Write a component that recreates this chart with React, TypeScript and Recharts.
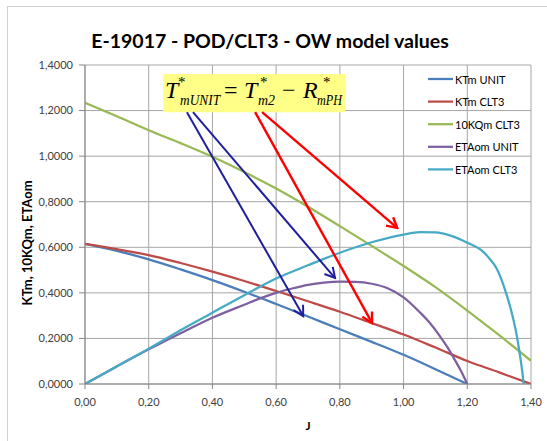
import React from 'react';
import { LineChart, Line, XAxis, YAxis, CartesianGrid, ReferenceLine, ReferenceArea } from 'recharts';

// ---- data ----
const J_TICKS = [0, 0.2, 0.4, 0.6, 0.8, 1.0, 1.2, 1.4];
const Y_TICKS = [0, 0.2, 0.4, 0.6, 0.8, 1.0, 1.2, 1.4];

const ktmUnitJ = [0, 0.1, 0.2, 0.3, 0.4, 0.5, 0.6, 0.7, 0.8, 0.9, 1.0, 1.1, 1.2];
const ktmUnitV = [0.615, 0.584, 0.547, 0.503, 0.456, 0.405, 0.351, 0.296, 0.240, 0.185, 0.128, 0.065, 0.0];

const ktmClt3J = [0, 0.1, 0.2, 0.3, 0.4, 0.5, 0.6, 0.7, 0.8, 0.9, 1.0, 1.1, 1.2, 1.3, 1.4];
const ktmClt3V = [0.615, 0.592, 0.566, 0.531, 0.493, 0.452, 0.408, 0.363, 0.317, 0.267, 0.217, 0.160, 0.101, 0.051, 0.0];

const kqClt3J = [0, 0.1, 0.2, 0.3, 0.4, 0.5, 0.6, 0.7, 0.8, 0.9, 1.0, 1.1, 1.2, 1.3, 1.4];
const kqClt3V = [1.234, 1.175, 1.114, 1.057, 0.997, 0.930, 0.858, 0.778, 0.693, 0.606, 0.518, 0.425, 0.322, 0.214, 0.102];

const etaUnitJ = [0, 0.1, 0.2, 0.3, 0.4, 0.5, 0.55, 0.6, 0.65, 0.7, 0.75, 0.8, 0.85, 0.9, 0.95, 1.0, 1.05, 1.08, 1.11, 1.14, 1.16, 1.18, 1.2];
const etaUnitV = [0, 0.077, 0.152, 0.223, 0.291, 0.348, 0.376, 0.400, 0.419, 0.435, 0.445, 0.449, 0.448, 0.440, 0.420, 0.380, 0.316, 0.272, 0.218, 0.156, 0.108, 0.058, 0.0];

const etaClt3J = [0, 0.1, 0.2, 0.3, 0.4, 0.5, 0.6, 0.7, 0.8, 0.9, 1.0, 1.05, 1.1, 1.15, 1.2, 1.25, 1.27, 1.293, 1.317, 1.34, 1.355, 1.366, 1.373, 1.377];
const etaClt3V = [0, 0.078, 0.155, 0.236, 0.313, 0.390, 0.463, 0.521, 0.576, 0.622, 0.656, 0.666, 0.665, 0.650, 0.620, 0.580, 0.550, 0.505, 0.420, 0.310, 0.215, 0.120, 0.050, 0.0];

const SERIES_NAMES = ['KTm UNIT', 'KTm CLT3', '10KQm CLT3', 'ETAom UNIT', 'ETAom CLT3'];
const SERIES_COLORS = ['#4A7EBB', '#BE4B48', '#98B954', '#7D60A0', '#46AAC5'];

// annotation arrows: [startJ, startV, endJ, endV]
const BLUE_ARROWS = [
  [0.320, 1.193, 0.685, 0.298],
  [0.339, 1.193, 0.785, 0.465],
];
const RED_ARROWS = [
  [0.534, 1.193, 0.901, 0.268],
  [0.556, 1.193, 0.980, 0.685],
];
const FORMULA_BOX = { x1: 0.245, x2: 0.817, y1: 1.193, y2: 1.36 };

const zip = (js: number[], vs: number[]) => js.map((j, i) => ({ j, v: vs[i] }));
const seriesData = [
  zip(ktmUnitJ, ktmUnitV),
  zip(ktmClt3J, ktmClt3V),
  zip(kqClt3J, kqClt3V),
  zip(etaUnitJ, etaUnitV),
  zip(etaClt3J, etaClt3V),
];

const FONT = 'Lato, "Open Sans", sans-serif';
const fmtY = (v: number) => v.toFixed(4).replace('.', ',');
const fmtX = (v: number) => v.toFixed(2).replace('.', ',');

const Formula = (props: any) => {
  const vb = props.viewBox || {};
  const x0 = vb.x ?? 0;
  const y0 = vb.y ?? 0;
  const ff = '"Liberation Serif", "Times New Roman", serif';
  const big = 24;
  const sub = 15;
  const base = y0 + 23.5;
  const subBase = y0 + 31;
  const supBase = y0 + 13;
  return (
    <g fontFamily={ff} fill="#000">
      <text x={x0 + 2} y={base} fontSize={big} fontStyle="italic">T</text>
      <text x={x0 + 15} y={supBase} fontSize={sub}>*</text>
      <text x={x0 + 17} y={subBase} fontSize={sub} fontStyle="italic" textLength={40} lengthAdjust="spacingAndGlyphs">mUNIT</text>
      <text x={x0 + 61} y={base} fontSize={big}>=</text>
      <text x={x0 + 81} y={base} fontSize={big} fontStyle="italic">T</text>
      <text x={x0 + 97} y={supBase} fontSize={sub}>*</text>
      <text x={x0 + 95} y={subBase} fontSize={sub} fontStyle="italic" textLength={17} lengthAdjust="spacingAndGlyphs">m2</text>
      <text x={x0 + 119} y={base} fontSize={big}>−</text>
      <text x={x0 + 140} y={base} fontSize={big} fontStyle="italic">R</text>
      <text x={x0 + 160} y={supBase} fontSize={sub}>*</text>
      <text x={x0 + 154} y={subBase} fontSize={sub} fontStyle="italic" textLength={25} lengthAdjust="spacingAndGlyphs">mPH</text>
    </g>
  );
};

const arrowShape = (marker: string, color: string, width: number) => (p: any) => (
  <line
    x1={p.x1}
    y1={p.y1}
    x2={p.x2}
    y2={p.y2}
    stroke={color}
    strokeWidth={width}
    markerEnd={`url(#${marker})`}
  />
);

const LegendBox = () => {
  const x0 = 428;
  const y0 = 79;
  const step = 22.6;
  return (
    <g fontFamily={FONT} fontSize={11} fill="#000">
      {SERIES_NAMES.map((name, i) => (
        <g key={name}>
          <line x1={x0} x2={x0 + 25} y1={y0 + i * step} y2={y0 + i * step} stroke={SERIES_COLORS[i]} strokeWidth={2.25} />
          <text x={x0 + 27} y={y0 + i * step} dominantBaseline="central">{name}</text>
        </g>
      ))}
    </g>
  );
};

export default function App() {
  return (
    <div style={{ position: 'absolute', left: 0, top: 0, width: 547, height: 441, background: '#fff' }}>
      <LineChart width={547} height={441} margin={{ top: 65, right: 16, bottom: 27, left: 0 }}>
        <defs>
          <marker id="ahRed" markerUnits="userSpaceOnUse" markerWidth={14} markerHeight={14} refX={12} refY={7} orient="auto">
            <path d="M2,1.5 L12,7 L2,12.5" fill="none" stroke="#FF0000" strokeWidth={2.4} />
          </marker>
          <marker id="ahBlue" markerUnits="userSpaceOnUse" markerWidth={14} markerHeight={14} refX={12} refY={7} orient="auto">
            <path d="M2,1.5 L12,7 L2,12.5" fill="none" stroke="#1F1F9C" strokeWidth={2} />
          </marker>
        </defs>
        <rect x={7.5} y={6.5} width={560} height={460} fill="none" stroke="#d0d0d0" />
        <CartesianGrid stroke="#a6a6a6" strokeWidth={1} />
        <XAxis
          type="number"
          dataKey="j"
          domain={[0, 1.4]}
          ticks={J_TICKS}
          tickFormatter={fmtX}
          height={30}
          tickSize={5}
          tickMargin={9}
          axisLine={{ stroke: '#868686' }}
          tickLine={{ stroke: '#868686' }}
          tick={{ fill: '#404040', fontSize: 11, fontFamily: FONT }}
          allowDataOverflow
        />
        <YAxis
          type="number"
          domain={[0, 1.4]}
          ticks={Y_TICKS}
          tickFormatter={fmtY}
          width={85}
          tickSize={6}
          tickMargin={6}
          axisLine={{ stroke: '#868686' }}
          tickLine={{ stroke: '#868686' }}
          tick={{ fill: '#404040', fontSize: 11, fontFamily: FONT }}
          allowDataOverflow
        />
        {seriesData.map((d, i) => (
          <Line
            key={SERIES_NAMES[i]}
            data={d}
            dataKey="v"
            name={SERIES_NAMES[i]}
            type="monotone"
            stroke={SERIES_COLORS[i]}
            strokeWidth={2.25}
            dot={false}
            activeDot={false}
            isAnimationActive={false}
          />
        ))}
        <ReferenceArea
          x1={FORMULA_BOX.x1}
          x2={FORMULA_BOX.x2}
          y1={FORMULA_BOX.y1}
          y2={FORMULA_BOX.y2}
          fill="#FFFF88"
          fillOpacity={1}
          stroke="none"
          label={{ content: (p: any) => <Formula viewBox={p.viewBox} /> }}
        />
        {BLUE_ARROWS.map((a, i) => (
          <ReferenceLine
            key={'b' + i}
            segment={[{ x: a[0], y: a[1] }, { x: a[2], y: a[3] }]}
            stroke="#1F1F9C"
            strokeWidth={2}
            shape={arrowShape('ahBlue', '#1F1F9C', 2)}
          />
        ))}
        {RED_ARROWS.map((a, i) => (
          <ReferenceLine
            key={'r' + i}
            segment={[{ x: a[0], y: a[1] }, { x: a[2], y: a[3] }]}
            stroke="#FF0000"
            strokeWidth={2.4}
            shape={arrowShape('ahRed', '#FF0000', 2.4)}
          />
        ))}
        <LegendBox />
        <text x={270} y={48} textAnchor="middle" fontFamily={FONT} fontWeight="bold" fontSize={19.5} fill="#000">
          E-19017 - POD/CLT3 - OW model values
        </text>
        <text
          x={27}
          y={243}
          textAnchor="middle"
          dominantBaseline="central"
          transform="rotate(-90 27 243)"
          fontFamily={FONT}
          fontWeight="bold"
          fontSize={13}
          fill="#000"
        >
          KTm, 10KQm, ETAom
        </text>
        <text x={308} y={430} textAnchor="middle" fontFamily={FONT} fontWeight="bold" fontSize={12} fill="#000">
          J
        </text>
      </LineChart>
    </div>
  );
}
